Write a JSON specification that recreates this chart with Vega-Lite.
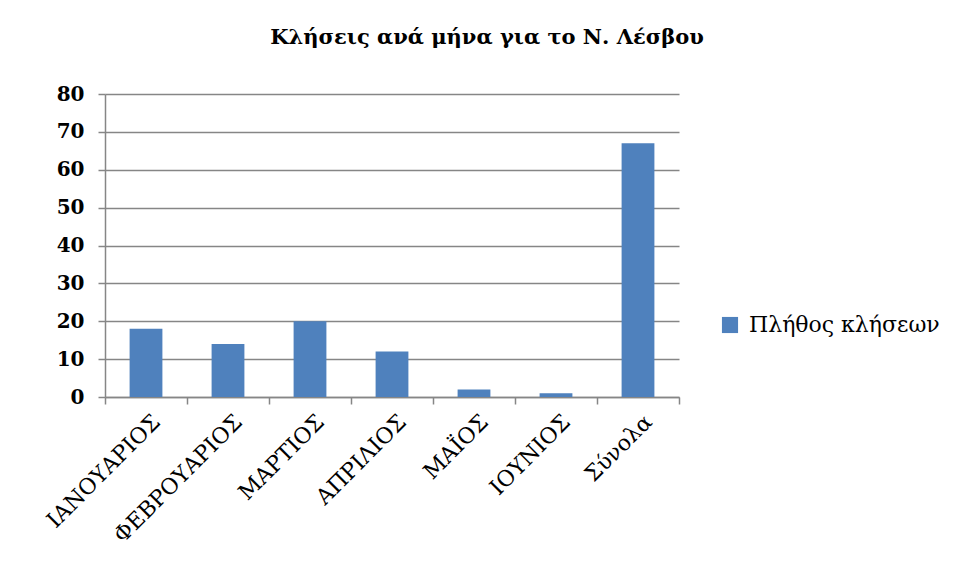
{
  "$schema": "https://vega.github.io/schema/vega-lite/v6.json",
  "autosize": "none",
  "width": 574,
  "height": 303,
  "padding": {"left": 105, "top": 94, "right": 278, "bottom": 184},
  "background": "white",
  "title": {
    "text": "Κλήσεις ανά μήνα για το Ν. Λέσβου",
    "font": "DejaVu Serif",
    "fontSize": 21,
    "fontWeight": "bold",
    "color": "#000000",
    "anchor": "middle",
    "frame": "group",
    "dx": 95,
    "offset": 36
  },
  "data": {
    "values": [
      {"month": "ΙΑΝΟΥΑΡΙΟΣ", "calls": 18, "series": "Πλήθος κλήσεων"},
      {"month": "ΦΕΒΡΟΥΑΡΙΟΣ", "calls": 14, "series": "Πλήθος κλήσεων"},
      {"month": "ΜΑΡΤΙΟΣ", "calls": 20, "series": "Πλήθος κλήσεων"},
      {"month": "ΑΠΡΙΛΙΟΣ", "calls": 12, "series": "Πλήθος κλήσεων"},
      {"month": "ΜΑΪΟΣ", "calls": 2, "series": "Πλήθος κλήσεων"},
      {"month": "ΙΟΥΝΙΟΣ", "calls": 1, "series": "Πλήθος κλήσεων"},
      {"month": "Σύνολα", "calls": 67, "series": "Πλήθος κλήσεων"}
    ]
  },
  "mark": {"type": "bar", "width": {"band": 0.4}},
  "encoding": {
    "x": {
      "field": "month",
      "type": "nominal",
      "sort": null,
      "title": null,
      "scale": {"paddingInner": 0, "paddingOuter": 0},
      "axis": {
        "labelAngle": -45,
        "labelAlign": "right",
        "labelBaseline": "middle",
        "labelFont": "DejaVu Serif",
        "labelFontSize": 22,
        "labelColor": "#000000",
        "labelPadding": 14,
        "labelOffset": 10,
        "labelLimit": 0,
        "tickBand": "extent",
        "tickSize": 7,
        "tickColor": "#868686",
        "domainColor": "#868686",
        "tickWidth": 1.5,
        "domainWidth": 1.5,
        "grid": false
      }
    },
    "y": {
      "field": "calls",
      "type": "quantitative",
      "title": null,
      "scale": {"domain": [0, 80], "nice": false},
      "axis": {
        "values": [0, 10, 20, 30, 40, 50, 60, 70, 80],
        "labelFont": "DejaVu Serif",
        "labelFontSize": 20,
        "labelFontWeight": "bold",
        "labelColor": "#000000",
        "labelPadding": 14,
        "tickSize": 7,
        "tickColor": "#868686",
        "domainColor": "#868686",
        "gridColor": "#868686",
        "tickWidth": 1.5,
        "domainWidth": 1.5,
        "gridWidth": 1.5
      }
    },
    "color": {
      "field": "series",
      "type": "nominal",
      "scale": {"range": ["#4F81BD"]},
      "legend": {
        "title": null,
        "orient": "none",
        "legendX": 614,
        "legendY": 220,
        "symbolType": "square",
        "symbolSize": 260,
        "labelFont": "DejaVu Serif",
        "labelFontSize": 22,
        "labelColor": "#000000",
        "labelOffset": 8,
        "labelLimit": 0
      }
    }
  },
  "config": {"view": {"stroke": null}}
}
